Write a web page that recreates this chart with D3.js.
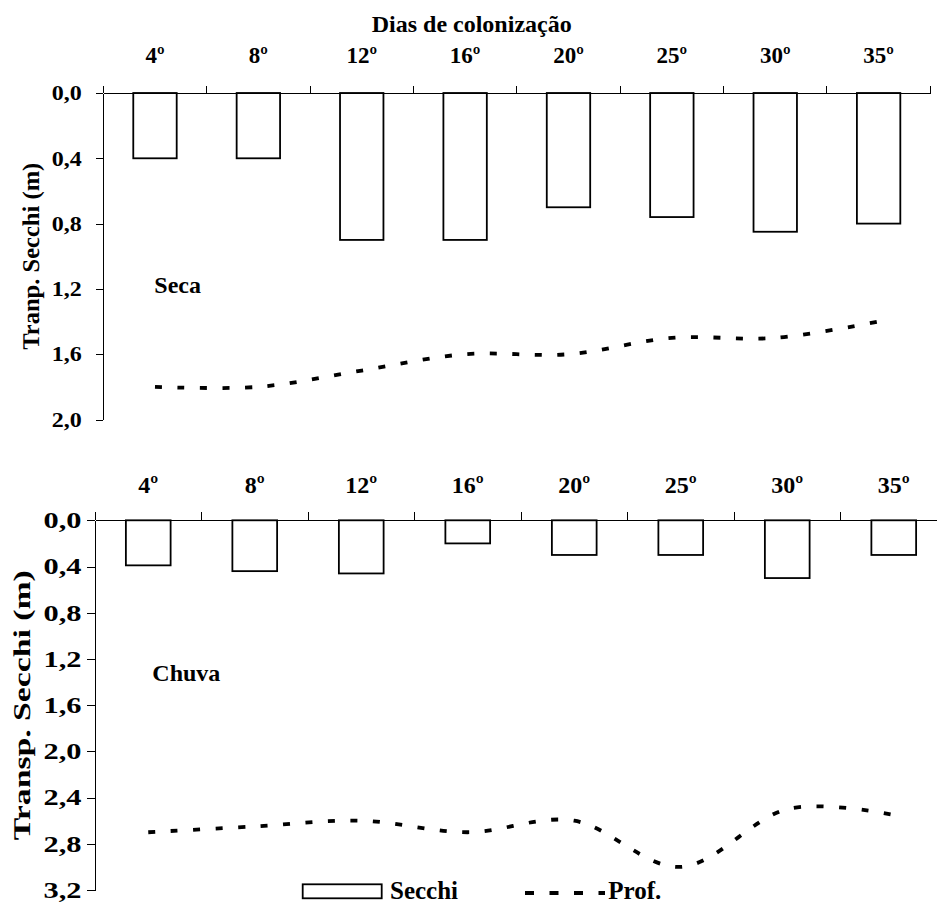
<!DOCTYPE html>
<html>
<head>
<meta charset="utf-8">
<script src="https://cdn.jsdelivr.net/npm/d3@7"></script>
<style>
  body { margin: 0; background: #fff; }
</style>
</head>
<body>
<svg id="chart" width="937" height="903"></svg>
<script>
// data
const days = ["4º", "8º", "12º", "16º", "20º", "25º", "30º", "35º"];
const secchiSeca = [0.4, 0.4, 0.9, 0.9, 0.7, 0.76, 0.85, 0.8];
const profSeca = [1.8, 1.8, 1.7, 1.6, 1.6, 1.5, 1.5, 1.4];
const secchiChuva = [0.39, 0.44, 0.46, 0.2, 0.3, 0.3, 0.5, 0.3];
const profChuva = [2.7, 2.65, 2.6, 2.7, 2.6, 3.0, 2.5, 2.55];
const ticksSeca = [0, 0.4, 0.8, 1.2, 1.6, 2.0];
const ticksChuva = [0, 0.4, 0.8, 1.2, 1.6, 2.0, 2.4, 2.8, 3.2];

const FONT = "Liberation Serif";

const svg = d3.select("#chart");
const fmt = d => d3.format(".1f")(d).replace(".", ",");

function label(sel, size) {
    return sel.attr("font-family", FONT).attr("font-weight", "bold")
        .attr("font-size", size).attr("fill", "#000");
}

function panel(cfg) {
    const g = svg.append("g");

    const x = d3.scaleBand().domain(days).range([cfg.x0, cfg.x1])
        .paddingInner(0.58).paddingOuter(0.29);
    const xb = d3.scaleBand().domain(days).range([cfg.x0, cfg.x1]);
    const y = d3.scaleLinear().domain([0, cfg.max]).range([cfg.y0, cfg.y1]);

    // bars hang down from zero
    g.selectAll("rect.bar")
        .data(cfg.secchi)
        .join("rect")
        .attr("class", "bar")
        .attr("x", (d, i) => x(days[i]))
        .attr("y", y(0))
        .attr("width", x.bandwidth())
        .attr("height", d => y(d) - y(0))
        .attr("fill", "#fff")
        .attr("stroke", "#000")
        .attr("stroke-width", 1.8);

    // y axis
    const ya = g.append("g")
        .attr("transform", `translate(${cfg.x0},0)`)
        .call(d3.axisLeft(y).tickValues(cfg.ticks).tickSize(cfg.tick)
            .tickSizeOuter(0).tickPadding(cfg.pad).tickFormat(fmt));
    label(ya.selectAll("text"), cfg.yfs);
    if (cfg.ylen) ya.selectAll("text").attr("textLength", cfg.ylen).attr("lengthAdjust", "spacingAndGlyphs");

    // x axis on the zero line, labels at band centres
    const xa = g.append("g")
        .attr("transform", `translate(0,${y(0)})`)
        .call(d3.axisTop(xb).tickSize(0).tickSizeOuter(0).tickPadding(cfg.xpad));
    label(xa.selectAll("text"), cfg.xfs);

    // ticks at band boundaries
    g.selectAll("line.bt")
        .data(d3.range(days.length + 1))
        .join("line")
        .attr("class", "bt")
        .attr("x1", i => cfg.x0 + i * xb.step())
        .attr("x2", i => cfg.x0 + i * xb.step())
        .attr("y1", y(0))
        .attr("y2", y(0) - cfg.tick)
        .attr("stroke", "#000");

    g.selectAll(".domain, .tick line").attr("stroke", "#000");
    g.selectAll("line, .domain").attr("shape-rendering", "crispEdges");

    // depth line
    const line = d3.line()
        .x((d, i) => xb(days[i]) + xb.bandwidth() / 2)
        .y(d => y(d))
        .curve(d3.curveCardinal.tension(0));
    g.append("path")
        .datum(cfg.prof)
        .attr("d", line)
        .attr("fill", "none")
        .attr("stroke", "#000")
        .attr("stroke-width", 3.8)
        .attr("stroke-dasharray", "7,15.5");

    // axis title
    const ty = label(g.append("text"), 24)
        .attr("transform", `translate(${cfg.tx},${(cfg.y0 + cfg.y1) / 2}) rotate(-90)`)
        .attr("text-anchor", "middle")
        .attr("text-rendering", "geometricPrecision")
        .text(cfg.title);
    if (cfg.tlen) ty.attr("textLength", cfg.tlen).attr("lengthAdjust", "spacingAndGlyphs");

    // season label
    label(g.append("text"), 24)
        .attr("x", cfg.lx).attr("y", cfg.ly)
        .text(cfg.label);
}

panel({
    x0: 103.3, x1: 930.3, y0: 93, y1: 419.5, max: 2.0,
    ticks: ticksSeca, secchi: secchiSeca, prof: profSeca,
    tick: 7.5, pad: 14, yfs: 21, ylen: 30, xpad: 29.7, xfs: 23,
    title: "Tranp. Secchi (m)", tx: 39, tlen: 187,
    label: "Seca", lx: 154.3, ly: 292.7
});

panel({
    x0: 95, x1: 947, y0: 520.3, y1: 890, max: 3.2,
    ticks: ticksChuva, secchi: secchiChuva, prof: profChuva,
    tick: 8, pad: 5.5, yfs: 23, ylen: 38, xpad: 27.6, xfs: 24,
    title: "Transp. Secchi (m)", tx: 30, tlen: 270,
    label: "Chuva", lx: 152.3, ly: 681
});

// top title
label(svg.append("text"), 24)
    .attr("x", 471.7).attr("y", 32.3)
    .attr("text-anchor", "middle")
    .text("Dias de colonização");

// legend
const leg = svg.append("g");
leg.append("rect")
    .attr("x", 302.7).attr("y", 884.3).attr("width", 79).attr("height", 14)
    .attr("fill", "#fff").attr("stroke", "#000").attr("stroke-width", 1.8);
label(leg.append("text"), 25).attr("x", 390).attr("y", 899).text("Secchi");
leg.append("line")
    .attr("x1", 525).attr("x2", 605).attr("y1", 893).attr("y2", 893)
    .attr("stroke", "#000").attr("stroke-width", 3.8).attr("stroke-dasharray", "9,15.5");
label(leg.append("text"), 25).attr("x", 608.3).attr("y", 899).text("Prof.");
</script>
</body>
</html>
